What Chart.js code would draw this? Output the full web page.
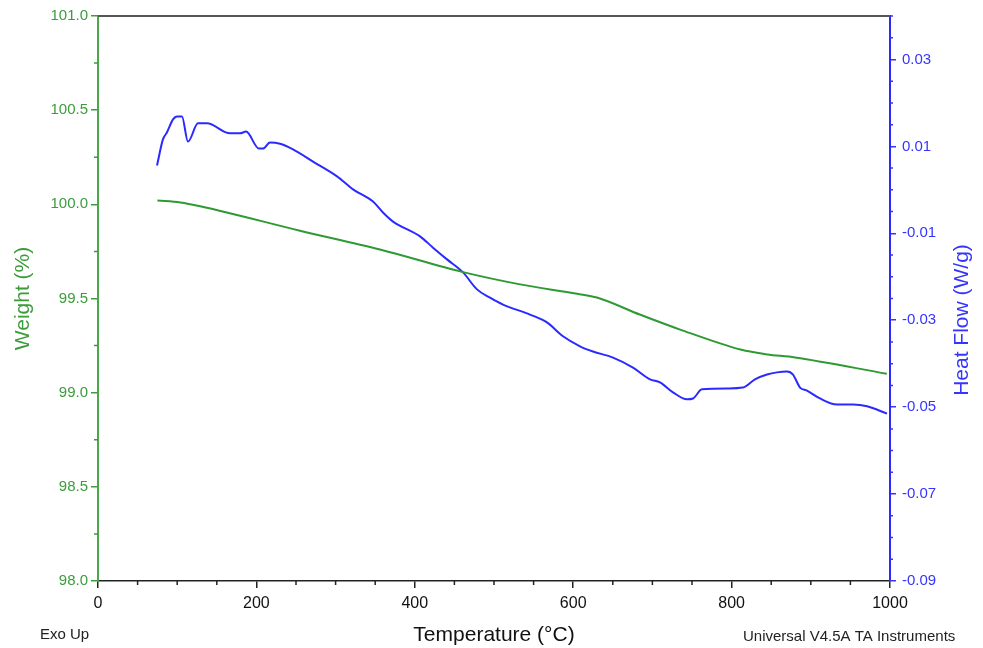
<!DOCTYPE html>
<html>
<head>
<meta charset="utf-8">
<title>TGA / DSC</title>
<script src="https://cdn.jsdelivr.net/npm/chart.js@4.4.1/dist/chart.umd.min.js"></script>
<style>
	html, body { margin: 0; padding: 0; background: #fff; }
	#wrap { width: 983px; height: 648px; }
</style>
</head>
<body>
<div id="wrap"><canvas id="tgagraphcanvas"></canvas></div>
<script>
// Weight curve (temperature in °C, weight in %)
const weightTemp = [75, 104, 129, 255, 356, 461, 533, 605, 630, 684, 735, 811, 830, 845, 880, 996];
const weightPct = [100.02, 100.01, 99.99, 99.86, 99.76, 99.64, 99.575, 99.525, 99.505, 99.415, 99.335, 99.229, 99.213, 99.203, 99.187, 99.10];

// Heat flow curve (temperature in °C, heat flow in W/g)
const heatTemp = [74.5, 82, 87, 94.7, 99.7, 106, 113.6, 126.3, 137.6, 166.7, 179.3, 186.9, 203.3, 208.3, 217.2, 229.8,
	246.2, 271.5, 301.8, 322, 347.2, 359.8, 372.5, 406.6, 423, 440.7, 460.9, 478.5, 494.9, 511.4, 545.5, 566.9,
	587.1, 608.6, 625, 650.3, 675.5, 697, 709.6, 726, 743.7, 751.3, 762.6, 795.5, 814.4, 829.5, 844.7, 857.3,
	870, 877.5, 886.4, 895.2, 911.6, 933.1, 953.3, 971, 996.2];
const heatFlow = [0.0056, 0.0116, 0.0132, 0.0162, 0.0169, 0.0169, 0.0111, 0.0153, 0.0153, 0.0130, 0.0130, 0.0134, 0.0095, 0.0095, 0.0109, 0.0106,
	0.0093, 0.0065, 0.0031, 0.0001, -0.0027, -0.0052, -0.0073, -0.0107, -0.0133, -0.0160, -0.0190, -0.0229, -0.0248, -0.0264, -0.0287, -0.0305,
	-0.0337, -0.0360, -0.0372, -0.0386, -0.0409, -0.0436, -0.0443, -0.0466, -0.0482, -0.0480, -0.0459, -0.0457, -0.0455, -0.0436, -0.0425, -0.0420,
	-0.0418, -0.0425, -0.0455, -0.0462, -0.0480, -0.0494, -0.0494, -0.0498, -0.0515];

// Axis ticks
const tempTicks = [0, 200, 400, 600, 800, 1000];
const weightTicks = [98.0, 98.5, 99.0, 99.5, 100.0, 100.5, 101.0];
const heatTicks = [-0.09, -0.07, -0.05, -0.03, -0.01, 0.01, 0.03];

document.addEventListener('DOMContentLoaded', function(event) {
	const fontFamily = "'Liberation Sans', Arial, sans-serif";
	const green = '#3c9c3c';
	const greenLine = '#2f9a33';
	const blue = '#3535ff';
	const blueLine = '#2a2aff';

	// small ticks between the labelled ones, and the bits of text outside the axes
	const extrasPlugin = {
		id: 'extras',
		afterDraw: function(chart) {
			const ctx = chart.ctx;
			const area = chart.chartArea;
			const sx = chart.scales.x;
			const sy = chart.scales.y;
			const sy2 = chart.scales.y2;
			ctx.save();
			ctx.lineWidth = 1.5;

			ctx.strokeStyle = '#222';
			ctx.beginPath();
			for(let v = 50; v < 1000; v += 50){
				if(v % 200 === 0) continue;
				const px = sx.getPixelForValue(v);
				ctx.moveTo(px, area.bottom);
				ctx.lineTo(px, area.bottom + 4);
			}
			ctx.stroke();

			ctx.strokeStyle = green;
			ctx.beginPath();
			for(let v = 98.25; v < 101; v += 0.5){
				const py = sy.getPixelForValue(v);
				ctx.moveTo(area.left, py);
				ctx.lineTo(area.left - 4, py);
			}
			ctx.stroke();

			ctx.strokeStyle = blue;
			ctx.beginPath();
			for(let i = -18; i <= 8; i++){
				if((i + 18) % 4 === 0) continue;
				const py = sy2.getPixelForValue(i * 0.005);
				ctx.moveTo(area.right, py);
				ctx.lineTo(area.right + 3, py);
			}
			ctx.stroke();

			// top frame line
			ctx.strokeStyle = '#555';
			ctx.lineWidth = 2;
			ctx.beginPath();
			ctx.moveTo(area.left, area.top);
			ctx.lineTo(area.right, area.top);
			ctx.stroke();

			// right axis title reads bottom to top
			ctx.fillStyle = blue;
			ctx.font = '21px ' + fontFamily;
			ctx.textAlign = 'center';
			ctx.textBaseline = 'middle';
			ctx.translate(962, 320);
			ctx.rotate(-Math.PI / 2);
			ctx.fillText('Heat Flow (W/g)', 0, 0);
			ctx.restore();

			ctx.save();
			ctx.fillStyle = '#222';
			ctx.font = '15px ' + fontFamily;
			ctx.textBaseline = 'middle';
			ctx.textAlign = 'left';
			ctx.fillText('Exo Up', 40, 635);
			ctx.fillText('Universal V4.5A TA Instruments', 743, 637);
			ctx.restore();
		}
	};

	new Chart(
		document.getElementById('tgagraphcanvas'),
		{
			type: 'line',
			data: {
				datasets: [
					{
						label: 'Weight (%)',
						data: weightTemp.map(function(t, i){ return {x: t, y: weightPct[i]}; }),
						yAxisID: 'y',
						borderColor: greenLine,
						borderWidth: 2,
						pointRadius: 0,
						cubicInterpolationMode: 'monotone'
					},
					{
						label: 'Heat Flow (W/g)',
						data: heatTemp.map(function(t, i){ return {x: t, y: heatFlow[i]}; }),
						yAxisID: 'y2',
						borderColor: blueLine,
						borderWidth: 2,
						pointRadius: 0,
						cubicInterpolationMode: 'monotone'
					}
				]
			},
			options: {
				responsive: true,
				maintainAspectRatio: false,
				animation: false,
				layout: {
					padding: {top: 16, left: 0, right: 0, bottom: 0}
				},
				plugins: {
					legend: {display: false},
					tooltip: {enabled: false}
				},
				scales: {
					x: {
						type: 'linear',
						min: 0,
						max: 1000,
						afterBuildTicks: function(scale){
							scale.ticks = tempTicks.map(function(v){ return {value: v}; });
						},
						afterFit: function(scale){
							scale.height = 67;
						},
						ticks: {
							color: '#111',
							padding: 6,
							maxRotation: 0,
							font: {family: fontFamily, size: 16},
							callback: function(v){ return String(v); }
						},
						grid: {
							drawOnChartArea: false,
							tickLength: 7,
							color: '#222',
							lineWidth: 1.5
						},
						border: {color: '#222', width: 1.5},
						title: {
							display: true,
							text: 'Temperature (°C)',
							color: '#111',
							padding: {top: 0, bottom: 0},
							font: {family: fontFamily, size: 21}
						}
					},
					y: {
						type: 'linear',
						position: 'left',
						min: 98,
						max: 101,
						afterBuildTicks: function(scale){
							scale.ticks = weightTicks.map(function(v){ return {value: v}; });
						},
						afterFit: function(scale){
							scale.width = 98;
						},
						ticks: {
							color: green,
							padding: 3,
							font: {family: fontFamily, size: 15},
							callback: function(v){ return Number(v).toFixed(1); }
						},
						grid: {
							drawOnChartArea: false,
							tickLength: 7,
							color: green,
							lineWidth: 1.5
						},
						border: {color: '#4aa84a', width: 2},
						title: {
							display: true,
							text: 'Weight (%)',
							color: green,
							padding: {top: 11, bottom: 0},
							font: {family: fontFamily, size: 21}
						}
					},
					y2: {
						type: 'linear',
						position: 'right',
						min: -0.09,
						max: 0.04,
						afterBuildTicks: function(scale){
							scale.ticks = heatTicks.map(function(v){ return {value: v}; });
						},
						afterFit: function(scale){
							scale.width = 93;
						},
						ticks: {
							color: blue,
							padding: 6,
							font: {family: fontFamily, size: 15},
							callback: function(v){ return Number(v).toFixed(2); }
						},
						grid: {
							drawOnChartArea: false,
							tickLength: 6,
							color: blue,
							lineWidth: 1.5
						},
						border: {color: blueLine, width: 2}
					}
				}
			},
			plugins: [extrasPlugin]
		}
	);
});
</script>
</body>
</html>
